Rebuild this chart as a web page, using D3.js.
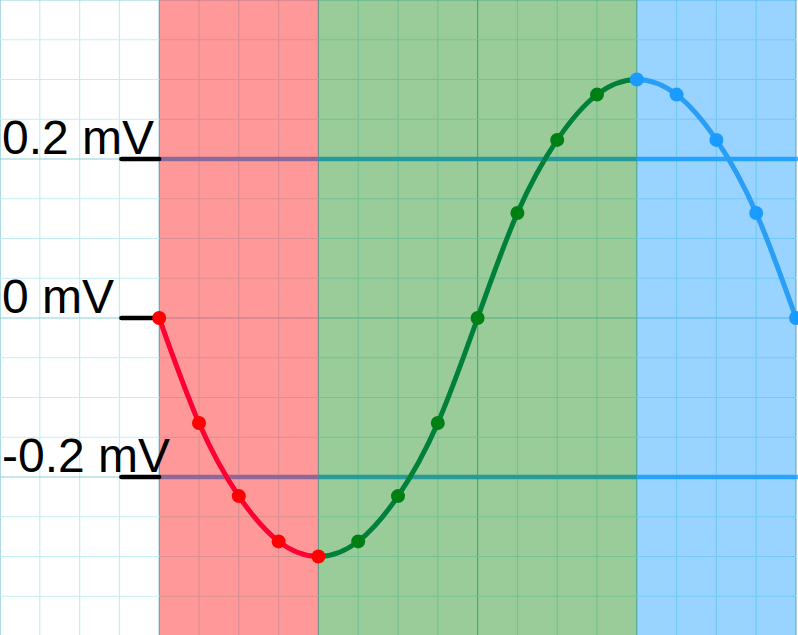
<!DOCTYPE html>
<html>
<head>
<meta charset="utf-8">
<script src="https://cdn.jsdelivr.net/npm/d3@7"></script>
<style>
  html, body { margin: 0; padding: 0; background: #fff; }
  svg { display: block; }
  text { font-family: Arial, "Liberation Sans", sans-serif; }
</style>
</head>
<body>
<div id="chart"></div>
<script>
// time in ms, voltage in mV
var times = [160, 200, 240, 280, 320, 360, 400, 440, 480, 520, 560, 600, 640, 680, 720, 760, 800];
var volts = [0, -0.132, -0.224, -0.281, -0.3, -0.281, -0.224, -0.132, 0, 0.132, 0.224, 0.281, 0.3, 0.281, 0.224, 0.132, 0];

// phases of the wave
var phases = [
    { name: "a", start: 160, end: 320, fill: "#ff0000", line: "#ff0033", dot: "#ff0000" },
    { name: "b", start: 320, end: 640, fill: "#008000", line: "#00803a", dot: "#008014" },
    { name: "c", start: 640, end: 800, fill: "#0091ff", line: "#2a9df4", dot: "#1a9bff" }
];

var levels = [0.2, 0, -0.2];
var levelLabels = ["0.2 mV", "0 mV", "-0.2 mV"];
var bands = [0.2, -0.2]; // thick lines only at +/-0.2

var width = 798,
    height = 635;

var svg = d3.select("#chart").append("svg")
    .attr("width", width)
    .attr("height", height);

var x = d3.scaleLinear().domain([0, 800]).range([0, 796]);
var y = d3.scaleLinear().domain([-0.4, 0.4]).range([636, 0]);

// grid paper
var grid = svg.append("g");
var minorX = d3.range(0, 801, 40),
    minorY = d3.range(-0.4, 0.401, 0.05);

grid.selectAll(".vx")
    .data(minorX)
    .enter().append("line")
    .attr("x1", function (d) { return x(d); })
    .attr("x2", function (d) { return x(d); })
    .attr("y1", 0)
    .attr("y2", height)
    .attr("stroke", function (d) { return d % 160 == 0 ? "#74c2d2" : "#c2eff5"; })
    .attr("stroke-width", 1.2);

grid.selectAll(".hy")
    .data(minorY)
    .enter().append("line")
    .attr("x1", 0)
    .attr("x2", width)
    .attr("y1", function (d) { return y(d); })
    .attr("y2", function (d) { return y(d); })
    .attr("stroke", function (d, i) { return i % 4 == 0 ? "#8ccfdc" : "#c2eff5"; })
    .attr("stroke-width", 1.2);

// level lines
svg.append("g").selectAll("line")
    .data(bands)
    .enter().append("line")
    .attr("x1", x(160))
    .attr("x2", width)
    .attr("y1", function (d) { return y(d); })
    .attr("y2", function (d) { return y(d); })
    .attr("stroke", "#42aeff")
    .attr("stroke-width", 4.5);

// phase bands
svg.append("g").selectAll("rect")
    .data(phases)
    .enter().append("rect")
    .attr("x", function (d) { return x(d.start); })
    .attr("y", 0)
    .attr("width", function (d) { return x(d.end) - x(d.start); })
    .attr("height", height)
    .attr("fill", function (d) { return d.fill; })
    .attr("fill-opacity", 0.4);

// ticks and labels
var lab = svg.append("g");
lab.selectAll("line")
    .data(levels)
    .enter().append("line")
    .attr("x1", x(122))
    .attr("x2", x(160))
    .attr("y1", function (d) { return y(d); })
    .attr("y2", function (d) { return y(d); })
    .attr("stroke", "#000")
    .attr("stroke-width", 4.5)
    .attr("stroke-linecap", "round");

lab.selectAll("text")
    .data(levels)
    .enter().append("text")
    .attr("x", 2)
    .attr("y", function (d) { return y(d) - 5; })
    .attr("font-size", 48)
    .attr("fill", "#000")
    .text(function (d, i) { return levelLabels[i]; });

// the wave, clipped per phase
var pts = times.map(function (t, i) { return { t: t, v: volts[i] }; });

var line = d3.line()
    .x(function (d) { return x(d.t); })
    .y(function (d) { return y(d.v); })
    .curve(d3.curveNatural);

var defs = svg.append("defs");
phases.forEach(function (p) {
    defs.append("clipPath")
        .attr("id", "clip-" + p.name)
        .append("rect")
        .attr("x", x(p.start))
        .attr("y", -10)
        .attr("width", x(p.end) - x(p.start) + (p.name == "c" ? 20 : 0))
        .attr("height", height + 20);
});

var wave = svg.append("g");
phases.forEach(function (p) {
    wave.append("path")
        .datum(pts)
        .attr("d", line)
        .attr("fill", "none")
        .attr("stroke", p.line)
        .attr("stroke-width", 5)
        .attr("clip-path", "url(#clip-" + p.name + ")");
});

// dots; boundary dots take the color of the earlier phase except the last one
function phaseOf(t) {
    if (t <= 320) return phases[0];
    if (t < 640) return phases[1];
    return phases[2];
}

wave.selectAll("circle")
    .data(pts)
    .enter().append("circle")
    .attr("cx", function (d) { return x(d.t); })
    .attr("cy", function (d) { return y(d.v); })
    .attr("r", 7)
    .attr("fill", function (d) { return phaseOf(d.t).dot; });
</script>
</body>
</html>
